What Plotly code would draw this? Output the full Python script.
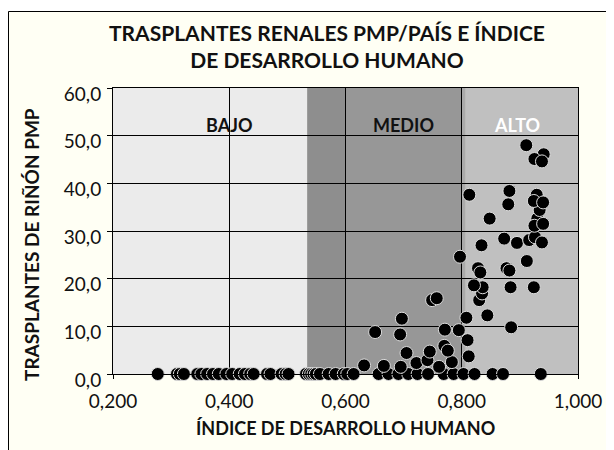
import plotly.graph_objects as go

# Data: Human Development Index vs kidney transplants per million population
idh = [0.277, 0.310, 0.315, 0.322, 0.345, 0.352, 0.362, 0.372, 0.382, 0.395, 0.405, 0.418, 0.427,
       0.436, 0.442, 0.465, 0.471, 0.490, 0.497, 0.502, 0.532, 0.537, 0.541, 0.545, 0.549, 0.556,
       0.571, 0.583, 0.597, 0.603, 0.614, 0.657, 0.674, 0.691, 0.708, 0.724, 0.742, 0.769, 0.786,
       0.803, 0.822, 0.853, 0.871, 0.936,
       0.632, 0.666, 0.695, 0.722, 0.741, 0.761, 0.783, 0.705, 0.745, 0.770, 0.776, 0.812, 0.810,
       0.651, 0.694, 0.697, 0.771, 0.795, 0.749, 0.757, 0.808, 0.844, 0.885, 0.830, 0.835, 0.836,
       0.821, 0.884, 0.924, 0.828, 0.832, 0.877, 0.882, 0.912, 0.797, 0.834, 0.873, 0.895, 0.916,
       0.926, 0.938, 0.848, 0.930, 0.925, 0.940, 0.934, 0.813, 0.882, 0.880, 0.929, 0.924, 0.940,
       0.911, 0.941, 0.925, 0.938]
tpm = [0.0] * 44 + [
       1.8, 1.7, 1.5, 2.3, 2.9, 1.5, 2.5, 4.4, 4.7, 5.9, 4.9, 3.7, 7.1,
       8.8, 8.3, 11.6, 9.3, 9.2, 15.5, 15.9, 11.8, 12.3, 9.8, 15.5, 16.9, 18.2,
       18.6, 18.2, 18.2, 22.2, 21.3, 22.2, 21.7, 23.7, 24.6, 27.0, 28.4, 27.5, 28.1,
       28.7, 27.6, 32.6, 32.6, 31.1, 31.5, 34.4, 37.6, 38.4, 35.6, 37.6, 36.3, 36.0,
       48.0, 46.1, 45.1, 44.6]

x_ticks = [0.2, 0.4, 0.6, 0.8, 1.0]
x_ticktext = ["0,200", "0,400", "0,600", "0,800", "1,000"]
y_ticks = [0, 10, 20, 30, 40, 50, 60]
y_ticktext = ["0,0", "10,0", "20,0", "30,0", "40,0", "50,0", "60,0"]

band_edges = [0.2, 0.534, 0.6, 0.8, 0.807, 1.0]
band_colors = ["#EBEBEB", "#8E8E8E", "#979797", "#AAAAAA", "#C0C0C0"]
band_labels = ["BAJO", "MEDIO", "ALTO"]
band_label_x = [0.4, 0.7, 0.895]
band_label_colors = ["#111111", "#111111", "#FFFFFF"]

FONT = "Lato"
OFF = 8  # page body margin
W, H = 614, 450
L, R, T, B = 113 - OFF, 36 + OFF, 88 - OFF, 76 + OFF
pw, ph = W - L - R, H - T - B

def px_x(sx):
    return (sx - OFF - L) / pw

def px_y(sy):
    return (H - B - (sy - OFF)) / ph

fig = go.Figure()
fig.add_trace(go.Scatter(
    x=idh, y=tpm, mode="markers", cliponaxis=False,
    marker=dict(size=13, color="#000000", line=dict(width=1, color="#DDDDDD")),
    showlegend=False, hoverinfo="skip"))

shapes = [dict(type="rect", xref="paper", yref="paper", layer="below",
               x0=px_x(8.5), x1=px_x(660), y0=px_y(480), y1=px_y(11.5),
               fillcolor="#FFFFF4", line=dict(color="#000000", width=1))]
for i, c in enumerate(band_colors):
    shapes.append(dict(type="rect", xref="x", yref="y", layer="below",
                       x0=band_edges[i], x1=band_edges[i + 1], y0=0, y1=60,
                       fillcolor=c, line=dict(width=0)))

annotations = []
for lab, xv, col in zip(band_labels, band_label_x, band_label_colors):
    annotations.append(dict(x=xv, y=px_y(125), xref="x", yref="paper", text="<b>%s</b>" % lab,
                            xanchor="center", yanchor="middle",
                            showarrow=False, font=dict(family=FONT, size=18, color=col)))
annotations.append(dict(x=px_x(345), y=px_y(428), xref="paper", yref="paper",
                        xanchor="center", yanchor="middle",
                        text="<b>ÍNDICE DE DESARROLLO HUMANO</b>", showarrow=False,
                        font=dict(family=FONT, size=18, color="#111111")))
annotations.append(dict(x=px_x(31), y=px_y(245), xref="paper", yref="paper", textangle=-90,
                        xanchor="center", yanchor="middle",
                        text="<b>TRASPLANTES DE RIÑÓN PMP</b>", showarrow=False,
                        font=dict(family=FONT, size=19, color="#111111")))
annotations.append(dict(x=px_x(327), y=px_y(46), xref="paper", yref="paper",
                        xanchor="center", yanchor="middle",
                        text="<b>TRASPLANTES RENALES PMP/PAÍS E ÍNDICE<br>DE DESARROLLO HUMANO</b>",
                        showarrow=False,
                        font=dict(family=FONT, size=21, color="#111111")))

fig.update_layout(
    width=W, height=H, margin=dict(l=L, r=R, t=T, b=B),
    paper_bgcolor="#FFFFFF", plot_bgcolor="rgba(0,0,0,0)",
    shapes=shapes, annotations=annotations,
    font=dict(family=FONT, color="#111111"),
)
fig.update_xaxes(range=[0.2, 1.0], tickvals=x_ticks, ticktext=x_ticktext,
                 showline=True, linecolor="#000000", linewidth=1, mirror=True,
                 showgrid=True, gridcolor="#000000", gridwidth=1, zeroline=False,
                 ticks="outside", ticklen=4, tickcolor="#000000", ticklabelstandoff=6,
                 tickfont=dict(family=FONT, size=19, color="#111111"))
fig.update_yaxes(range=[0, 60], tickvals=y_ticks, ticktext=y_ticktext,
                 showline=True, linecolor="#000000", linewidth=1, mirror=True,
                 showgrid=True, gridcolor="#000000", gridwidth=1, zeroline=False,
                 ticks="outside", ticklen=5, tickcolor="#000000", ticklabelstandoff=2,
                 ticklabelshift=6,
                 tickfont=dict(family=FONT, size=19, color="#111111"))

fig.write_html("out.html")
